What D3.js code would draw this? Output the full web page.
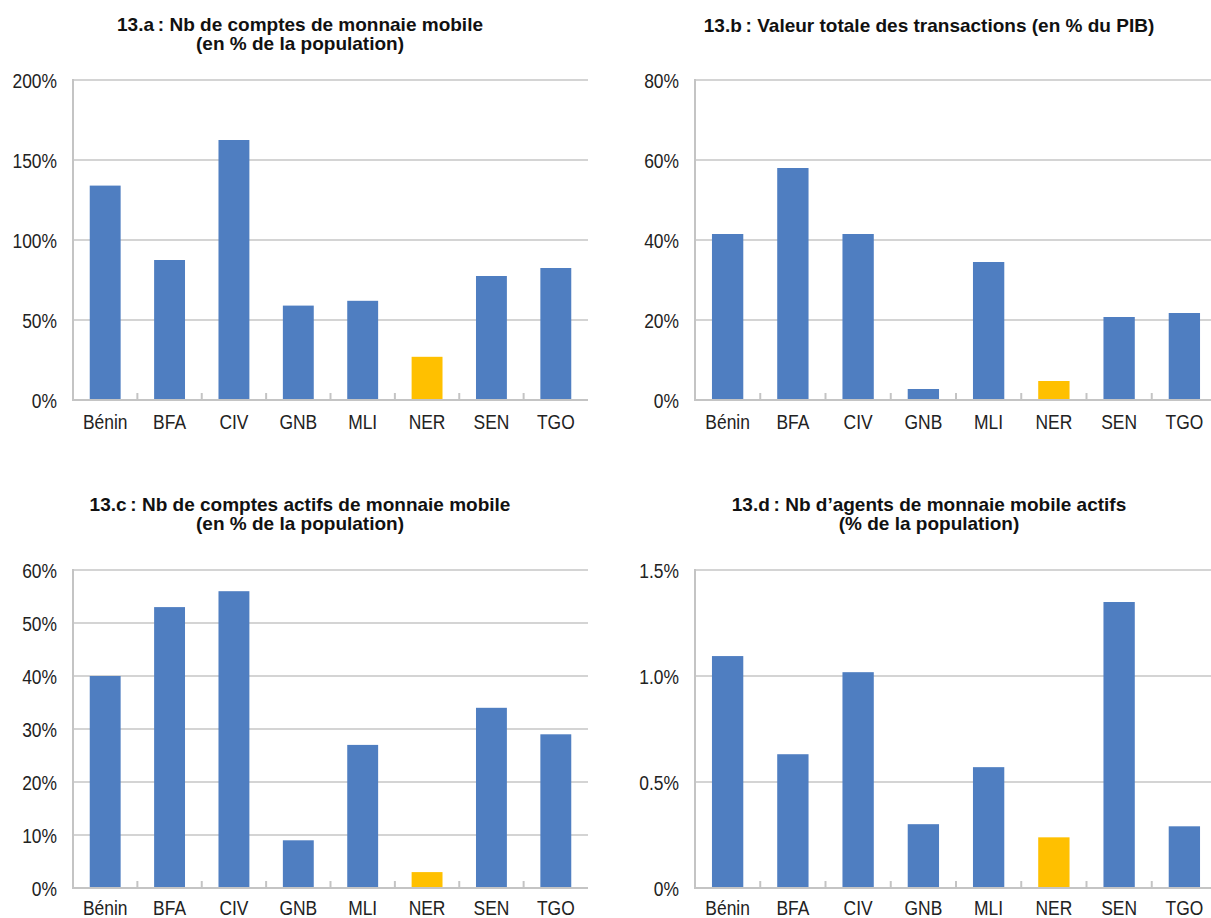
<!DOCTYPE html>
<html><head><meta charset="utf-8">
<script src="https://cdn.jsdelivr.net/npm/d3@7"></script>
<style>
html,body{margin:0;padding:0;background:#fff;}
svg{display:block;}
.title{font-family:"Liberation Sans","Arial",sans-serif;font-weight:bold;font-size:19px;fill:#111;}
.tick text{font-family:"Liberation Sans","Arial",sans-serif;font-size:21px;fill:#222;}
</style></head>
<body>
<svg id="chart" width="1211" height="918"></svg>
<script>
const categories = ["Bénin","BFA","CIV","GNB","MLI","NER","SEN","TGO"];
const highlight = "NER";

// 13.a : accounts (% population)
const valuesA = [134, 87.5, 162.5, 59, 62, 27, 77.5, 82.5];
const ticksA = [0, 50, 100, 150, 200];
const labelsA = ["0%","50%","100%","150%","200%"];

// 13.b : transactions (% GDP)
const valuesB = [41.5, 58, 41.5, 2.75, 34.5, 4.75, 20.75, 21.75];
const ticksB = [0, 20, 40, 60, 80];
const labelsB = ["0%","20%","40%","60%","80%"];

// 13.c : active accounts (% population)
const valuesC = [40, 53, 56, 9, 27, 3, 34, 29];
const ticksC = [0, 10, 20, 30, 40, 50, 60];
const labelsC = ["0%","10%","20%","30%","40%","50%","60%"];

// 13.d : active agents (% population)
const valuesD = [1.094, 0.631, 1.018, 0.301, 0.570, 0.239, 1.349, 0.291];
const ticksD = [0, 0.5, 1.0, 1.5];
const labelsD = ["0%","0.5%","1.0%","1.5%"];

const titleA = ["13.a\u2009: Nb de comptes de monnaie mobile","(en % de la population)"];
const titleB = ["13.b\u2009: Valeur totale des transactions (en % du PIB)"];
const titleC = ["13.c\u2009: Nb de comptes actifs de monnaie mobile","(en % de la population)"];
const titleD = ["13.d\u2009: Nb d\u2019agents de monnaie mobile actifs","(% de la population)"];

const panels = [
  {values: valuesA, ticks: ticksA, labels: labelsA, title: titleA, left: 73, right: 588, top: 80, bottom: 400, titleX: 300, titleY: 31, labelShift: 0},
  {values: valuesB, ticks: ticksB, labels: labelsB, title: titleB, left: 695, right: 1217, top: 80, bottom: 400, titleX: 929, titleY: 32, labelShift: 0},
  {values: valuesC, ticks: ticksC, labels: labelsC, title: titleC, left: 73, right: 588, top: 570, bottom: 888, titleX: 300, titleY: 511, labelShift: -2},
  {values: valuesD, ticks: ticksD, labels: labelsD, title: titleD, left: 695, right: 1217, top: 570, bottom: 888, titleX: 929, titleY: 511, labelShift: -2}
];

const svg = d3.select("#chart");
const BLUE = "#4F7EC1", YELLOW = "#FFC000", GRID = "#d4d4d4", AXIS = "#c4c4c4";
const SX = 0.83; // horizontal condensing of label font

panels.forEach(p => {
  const g = svg.append("g");
  const x = d3.scaleBand().domain(categories).range([p.left, p.right]).paddingInner(0.52).paddingOuter(0.26);
  const xb = d3.scaleBand().domain(categories).range([p.left, p.right]);
  const y = d3.scaleLinear().domain([0, d3.max(p.ticks)]).range([p.bottom, p.top]);

  // title
  const t = g.append("text").attr("class","title").attr("text-anchor","middle")
    .attr("transform", `translate(${p.titleX},${p.titleY})`);
  p.title.forEach((line,i) => t.append("tspan").attr("x", 0).attr("dy", i===0?0:19).text(line));

  // gridlines
  g.append("g").selectAll("line").data(p.ticks.filter(v => v > 0)).join("line")
    .attr("x1", p.left).attr("x2", p.right)
    .attr("y1", d => y(d)).attr("y2", d => y(d))
    .attr("stroke", GRID).attr("stroke-width", 2);

  // left axis line
  g.append("line").attr("x1", p.left).attr("x2", p.left)
    .attr("y1", y(d3.max(p.ticks)) - 1).attr("y2", p.bottom)
    .attr("stroke", AXIS).attr("stroke-width", 2);

  // y axis labels
  const yAxis = d3.axisLeft(y).tickValues(p.ticks).tickSize(0).tickPadding(16)
    .tickFormat((d,i) => p.labels[i]);
  const ya = g.append("g").attr("transform", `translate(${p.left},0)`).call(yAxis);
  ya.select(".domain").remove();
  ya.selectAll(".tick text").attr("dy", "0.35em")
    .attr("x", -16 / SX).attr("transform", `scale(${SX},1)`);

  // bars
  g.append("g").selectAll("rect").data(p.values).join("rect")
    .attr("x", (d,i) => x(categories[i]))
    .attr("width", x.bandwidth())
    .attr("y", d => y(d))
    .attr("height", d => p.bottom - y(d))
    .attr("fill", (d,i) => categories[i] === highlight ? YELLOW : BLUE);

  // baseline
  g.append("line").attr("x1", p.left - 1).attr("x2", p.right)
    .attr("y1", p.bottom).attr("y2", p.bottom)
    .attr("stroke", AXIS).attr("stroke-width", 2);

  // inner ticks at band boundaries
  g.append("g").selectAll("line").data(categories.slice(1)).join("line")
    .attr("x1", d => xb(d)).attr("x2", d => xb(d))
    .attr("y1", p.bottom - 7).attr("y2", p.bottom)
    .attr("stroke", AXIS).attr("stroke-width", 2);

  // category labels
  const xAxis = d3.axisBottom(xb).tickSize(0).tickPadding(12 + p.labelShift);
  const xa = g.append("g").attr("transform", `translate(0,${p.bottom})`).call(xAxis);
  xa.select(".domain").remove();
  xa.selectAll(".tick text").attr("dy", "0.8em").attr("transform", `scale(${SX},1)`);
});
</script>
</body></html>
